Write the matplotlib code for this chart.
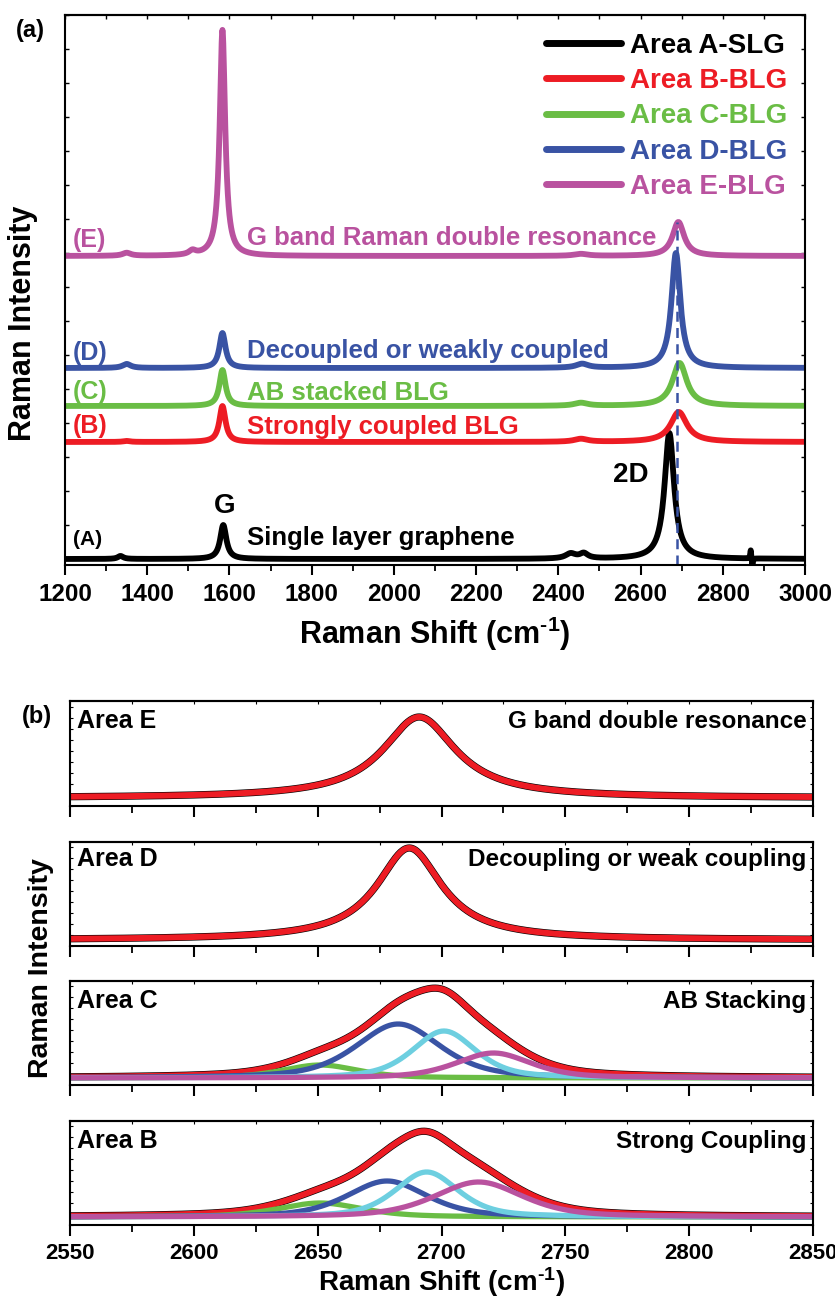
import numpy as np
import matplotlib.pyplot as plt
from matplotlib.ticker import MultipleLocator

plt.rcParams['font.family'] = ['Liberation Sans', 'DejaVu Sans']
plt.rcParams['font.weight'] = 'bold'
plt.rcParams['axes.labelweight'] = 'bold'
plt.rcParams['mathtext.fontset'] = 'custom'
plt.rcParams['mathtext.rm'] = 'Liberation Sans:bold'
plt.rcParams['mathtext.it'] = 'Liberation Sans:bold'
plt.rcParams['mathtext.bf'] = 'Liberation Sans:bold'
plt.rcParams['axes.linewidth'] = 1.5

# ---- panel (a): full spectra, bands as (center cm-1, height, hwhm), arb. units
names_a = ['Area A-SLG', 'Area B-BLG', 'Area C-BLG', 'Area D-BLG', 'Area E-BLG']
colors_a = ['#000000', '#ED1C24', '#6ABD45', '#3953A4', '#B9529F']
offsets_a = [6, 123, 159, 197, 309]
peaks_A = [(1335, 3, 8), (1585, 34, 9), (2430, 5, 15), (2462, 5, 12),
           (2670, 126, 14), (2868, 9, 1.5), (2872, -8, 1.5)]
peaks_B = [(1350, 1, 10), (1583, 36, 9), (2455, 3, 20), (2693, 30, 24)]
peaks_C = [(1583, 36, 9), (2455, 3, 20), (2695, 43, 21)]
peaks_D = [(1350, 4, 12), (1583, 35, 9), (2458, 4, 18), (2686, 115, 13)]
peaks_E = [(1350, 3, 12), (1510, 4, 10), (1583, 226, 8), (2455, 2, 20), (2692, 34, 17)]
peaks_a = [peaks_A, peaks_B, peaks_C, peaks_D, peaks_E]
tags_a = ['(A)', '(B)', '(C)', '(D)', '(E)']
notes_a = ['Single layer graphene', 'Strongly coupled BLG', 'AB stacked BLG',
           'Decoupled or weakly coupled', 'G band Raman double resonance']
pos_2D = 2688

# ---- panel (b): 2D band fits, components as (center, height, fwhm)
areas_b = ['Area E', 'Area D', 'Area C', 'Area B']
notes_b = ['G band double resonance', 'Decoupling or weak coupling',
           'AB Stacking', 'Strong Coupling']
base_b = [8, 6, 7, 8]
fitE = [(2691, 81, 36)]
fitD = [(2687, 92, 32)]
fitC = [(2651, 13, 36), (2682.5, 54, 40), (2701, 47, 30), (2721, 25, 36)]
fitB = [(2651, 14, 40), (2678, 36, 38), (2694, 45, 30), (2715, 35, 42)]
fits_b = [fitE, fitD, fitC, fitB]
comp_colors = ['#6ABD45', '#3953A4', '#6DCFE0', '#B9529F']

xlabel = r'Raman Shift (cm$^{\text{-1}}$)'


def lorentz(x, c, h, w):
    return h / (1 + ((x - c) / w) ** 2)


def pvoigt(x, c, h, fwhm, eta):
    s = fwhm / 2.3548
    g = np.exp(-(x - c) ** 2 / (2 * s ** 2))
    l = 1 / (1 + ((x - c) / (fwhm / 2)) ** 2)
    return h * (eta * l + (1 - eta) * g)


W, H = 835, 1298
fig = plt.figure(figsize=(W / 100, H / 100), dpi=100)


def box(l, t, r, b):
    return [l / W, 1 - b / H, (r - l) / W, (b - t) / H]


# ================= panel (a)
ax = fig.add_axes(box(65, 15, 805, 565))
x = np.arange(1200, 3001, 1.0)
lines = []
for name, col, off, pk in zip(names_a, colors_a, offsets_a, peaks_a):
    y = np.full_like(x, off, dtype=float)
    for c, h, w in pk:
        y += lorentz(x, c, h, w)
    ln, = ax.plot(x, y, color=col, lw=4.2, label=name, solid_capstyle='round',
                  solid_joinstyle='round')
    lines.append(ln)
ax.vlines(pos_2D, 0, offsets_a[4] + 34, colors='#3953A4', linestyles=(0, (4, 2.5)), lw=1.8)

ax.set_xlim(1200, 3000)
ax.set_ylim(0, 550)
ax.xaxis.set_major_locator(MultipleLocator(200))
ax.xaxis.set_minor_locator(MultipleLocator(100))
ax.set_yticks(np.arange(6, 551, 34))
ax.tick_params(axis='x', which='major', direction='out', length=7, width=1.5,
               labelsize=17.5, pad=6)
ax.tick_params(axis='x', which='minor', direction='out', length=4, width=1.3)
ax.tick_params(axis='y', which='both', direction='in', left=True, right=True,
               labelleft=False, length=3, width=1)
top = ax.secondary_xaxis('top')
top.xaxis.set_major_locator(MultipleLocator(100))
top.tick_params(direction='in', length=3, width=1, labeltop=False)
ax.set_xlabel(xlabel, fontsize=22, labelpad=6)

tag_y = [20, 132, 166, 205, 318]
note_y = [20, 131, 165, 207, 320]
tag_size = [15, 18, 18, 18, 18]
for tg, nt, col, ty, ny, ts in zip(tags_a, notes_a, colors_a, tag_y, note_y, tag_size):
    ax.text(1220, ty, tg, color=col, fontsize=ts, ha='left', va='baseline')
    ax.text(1643, ny, nt, color=col, fontsize=18.5, ha='left', va='baseline')
ax.text(1589, 52, 'G', fontsize=20, ha='center', va='baseline')
ax.text(2533, 83, '2D', fontsize=20, ha='left', va='baseline')

leg = ax.legend(handles=lines, loc='upper right', bbox_to_anchor=(1.0, 1.0),
                frameon=False, fontsize=20, handlelength=2.7, handletextpad=0.3,
                labelspacing=0.33, borderaxespad=0.25, labelcolor='linecolor')
for lh in leg.get_lines():
    lh.set_linewidth(5)

fig.text(23 / W, 1 - 323 / H, 'Raman Intensity', rotation=90, fontsize=22,
         ha='center', va='center')
fig.text(30 / W, 1 - 30 / H, '(a)', fontsize=17, ha='center', va='center')

# ================= panel (b)
xb = np.arange(2550, 2850.5, 0.5)
rows = [(701, 806), (842, 946), (981, 1085), (1121, 1225)]
for i, (t, b) in enumerate(rows):
    axb = fig.add_axes(box(70, t, 813, b))
    comps = fits_b[i]
    if len(comps) == 1:
        c, h, fw = comps[0]
        total = base_b[i] + lorentz(xb, c, h, fw / 2)
        parts = []
    else:
        parts = [base_b[i] + pvoigt(xb, c, h, fw, 0.5) for c, h, fw in comps]
        total = base_b[i] + sum(p - base_b[i] for p in parts)
    axb.plot(xb, total, color='black', lw=5.2)
    axb.plot(xb, total, color='#ED1C24', lw=4.3)
    for p, col in zip(parts, comp_colors):
        axb.plot(xb, p, color=col, lw=3.8)
    axb.set_xlim(2550, 2850)
    axb.set_ylim(0, b - t)
    axb.xaxis.set_major_locator(MultipleLocator(50))
    axb.xaxis.set_minor_locator(MultipleLocator(25))
    axb.yaxis.set_major_locator(MultipleLocator(11))
    axb.tick_params(axis='x', which='major', direction='out', length=8, width=1.5,
                    labelsize=16, pad=5, labelbottom=(i == 3))
    axb.tick_params(axis='x', which='minor', direction='out', length=5, width=1.3)
    axb.tick_params(axis='y', which='both', direction='in', left=True, right=True,
                    labelleft=False, length=2.5, width=0.8)
    tb = axb.secondary_xaxis('top')
    tb.xaxis.set_major_locator(MultipleLocator(25))
    tb.tick_params(direction='in', length=2.5, width=0.8, labeltop=False)
    fy = [0.743, 0.769, 0.74, 0.74][i]
    axb.text(0.009, fy, areas_b[i], transform=axb.transAxes, fontsize=18,
             ha='left', va='baseline')
    axb.text(0.991, fy, notes_b[i], transform=axb.transAxes, fontsize=17.5,
             ha='right', va='baseline')
    if i == 3:
        axb.set_xlabel(xlabel, fontsize=20, labelpad=1)

fig.text(41 / W, 1 - 968 / H, 'Raman Intensity', rotation=90, fontsize=20.5,
         ha='center', va='center')
fig.text(37 / W, 1 - 717 / H, '(b)', fontsize=17, ha='center', va='center')

fig.savefig('out.png', dpi=100)
